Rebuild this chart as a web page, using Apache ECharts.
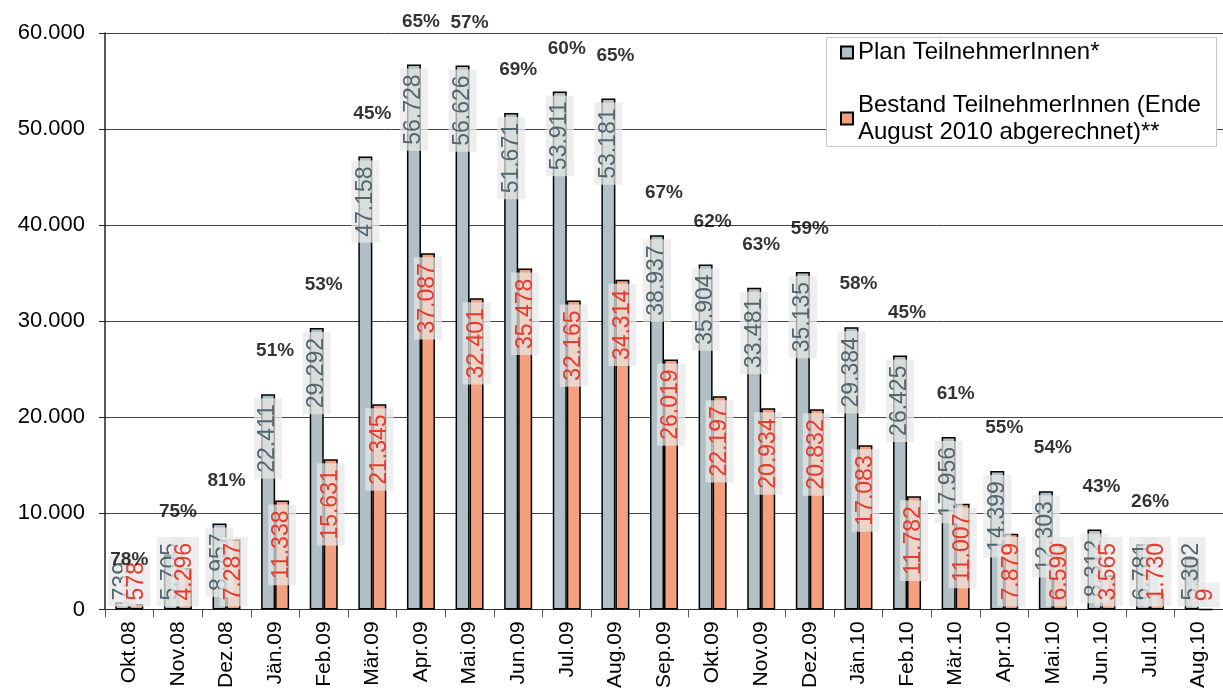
<!DOCTYPE html>
<html>
<head>
<meta charset="utf-8">
<script src="https://cdn.jsdelivr.net/npm/echarts@6/dist/echarts.min.js"></script>
<style>
  html, body { margin: 0; padding: 0; background: #fff; }
  #chart { width: 1223px; height: 691px; }
</style>
</head>
<body>
<div id="chart"></div>
<script>
// Monate
const categories = ['Okt.08', 'Nov.08', 'Dez.08', 'Jän.09', 'Feb.09', 'Mär.09', 'Apr.09', 'Mai.09', 'Jun.09', 'Jul.09', 'Aug.09', 'Sep.09',
  'Okt.09', 'Nov.09', 'Dez.09', 'Jän.10', 'Feb.10', 'Mär.10', 'Apr.10', 'Mai.10', 'Jun.10', 'Jul.10', 'Aug.10'];

// Plan TeilnehmerInnen
const planValues = [739, 5705, 8957, 22411, 29292, 47158, 56728, 56626, 51671, 53911, 53181, 38937,
  35904, 33481, 35135, 29384, 26425, 17956, 14399, 12303, 8312, 6781, 5302];

// Bestand TeilnehmerInnen
const bestandValues = [578, 4296, 7287, 11338, 15631, 21345, 37087, 32401, 35478, 32165, 34314, 26019,
  22197, 20934, 20832, 17083, 11782, 11007, 7879, 6590, 3565, 1730, 9];

// Anteil Bestand / Plan (Beschriftung)
const percentLabels = ['78%', '75%', '81%', '51%', '53%', '45%', '65%', '57%', '69%', '60%', '65%', '67%',
  '62%', '63%', '59%', '58%', '45%', '61%', '55%', '54%', '43%', '26%', ''];

const yTicks = [0, 10000, 20000, 30000, 40000, 50000, 60000];

const planName = 'Plan TeilnehmerInnen*';
const bestandName = 'Bestand TeilnehmerInnen (Ende\nAugust 2010 abgerechnet)**';

const FONT = 'Arial, "Liberation Sans", sans-serif';

// Tausendertrennzeichen mit Punkt
const fmt = v => String(v).replace(/\B(?=(\d{3})+(?!\d))/g, '.');

// kleine Balken: Beschriftung unten an der Achse, sonst oben im Balken
const barData = values => values.map(v => {
  if (v < 8000) {
    return { value: v, label: { position: 'insideBottom', align: 'left', distance: 3 } };
  }
  return { value: v };
});

const valueLabel = color => ({
  show: true,
  rotate: 90,
  position: 'insideTop',
  align: 'right',
  verticalAlign: 'middle',
  distance: 4,
  color: color,
  fontFamily: FONT,
  fontSize: 23,
  backgroundColor: 'rgba(232,232,232,0.72)',
  padding: [3, 6, 2, 6],
  formatter: p => fmt(p.value)
});

const chart = echarts.init(document.getElementById('chart'));

chart.setOption({
  animation: false,
  backgroundColor: '#fff',
  grid: {
    left: 105,
    right: 0,
    top: 33,
    bottom: 81
  },
  // Rahmen der Legende
  graphic: [{
    type: 'rect',
    left: 826,
    top: 37,
    z: 3,
    shape: { width: 390, height: 109 },
    style: { fill: '#fff', stroke: '#c8c8c8', lineWidth: 1 }
  }],
  legend: {
    data: [
      { name: planName },
      { name: bestandName, textStyle: { padding: [0, 0, 27, 0] } }
    ],
    orient: 'vertical',
    left: 826,
    top: 37,
    z: 4,
    itemWidth: 12,
    itemHeight: 12,
    itemGap: 12,
    padding: [2, 8, 0, 14],
    icon: 'rect',
    textStyle: {
      fontFamily: FONT,
      fontSize: 24,
      lineHeight: 27,
      color: '#000'
    }
  },
  xAxis: {
    type: 'category',
    data: categories,
    axisLine: { lineStyle: { color: '#333', width: 1 } },
    axisTick: { show: true, length: 8, lineStyle: { color: '#555' } },
    axisLabel: {
      rotate: 90,
      margin: 12,
      fontFamily: FONT,
      fontSize: 21,
      color: '#000',
      interval: 0
    }
  },
  yAxis: {
    type: 'value',
    min: 0,
    max: 60000,
    interval: 10000,
    axisLine: { show: true, lineStyle: { color: '#222', width: 1.5 } },
    axisTick: { show: true, length: 6, lineStyle: { color: '#222' } },
    splitLine: { show: true, lineStyle: { color: '#444', width: 1 } },
    axisLabel: {
      margin: 20,
      fontFamily: FONT,
      fontSize: 22,
      color: '#000',
      formatter: v => fmt(v)
    }
  },
  series: [
    {
      name: planName,
      type: 'bar',
      barWidth: 14,
      barGap: '0%',
      data: barData(planValues),
      itemStyle: { color: '#b1c0c7', borderColor: '#000', borderWidth: 1.5 },
      label: valueLabel('#52666f'),
      z: 2
    },
    {
      name: bestandName,
      type: 'bar',
      barWidth: 14,
      barGap: '0%',
      data: barData(bestandValues),
      itemStyle: { color: '#f4a07f', borderColor: '#000', borderWidth: 1.5 },
      label: valueLabel('#e63a2c'),
      z: 2
    },
    {
      name: 'Anteil',
      type: 'scatter',
      data: planValues,
      symbolSize: 1,
      itemStyle: { color: 'rgba(0,0,0,0)' },
      label: {
        show: true,
        position: 'top',
        distance: 33,
        fontFamily: FONT,
        fontSize: 19,
        fontWeight: 'bold',
        color: '#000',
        formatter: p => percentLabels[p.dataIndex]
      },
      z: 5
    }
  ]
});
</script>
</body>
</html>
